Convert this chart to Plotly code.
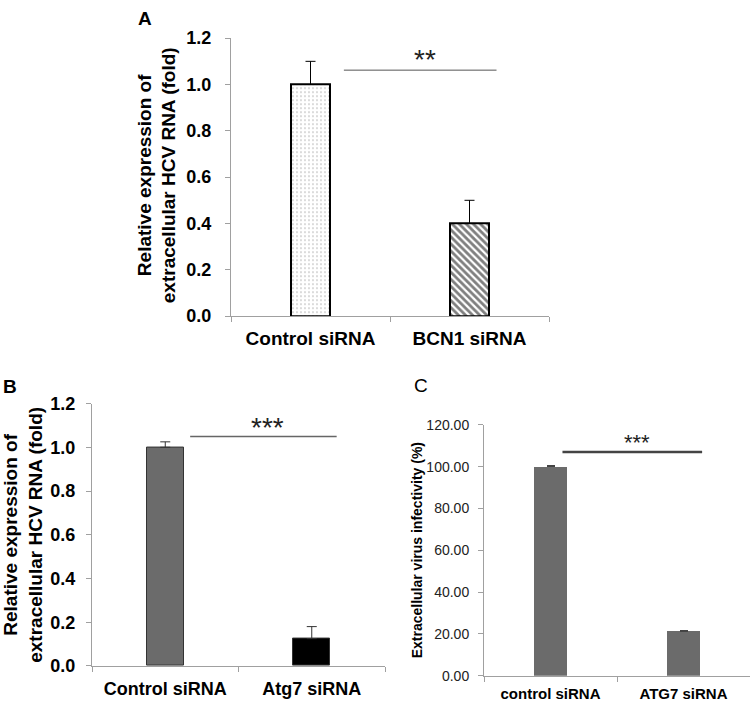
import plotly.graph_objects as go

W, H = 750, 709

# ---------------- data ----------------
cats_a = ["Control siRNA", "BCN1 siRNA"]
vals_a = [1.0, 0.40]
err_a = [0.10, 0.10]

cats_b = ["Control siRNA", "Atg7 siRNA"]
vals_b = [1.0, 0.125]
err_b = [0.025, 0.055]

cats_c = ["control siRNA", "ATG7 siRNA"]
vals_c = [100.0, 21.2]
err_c = [0.4, 0.6]

sig_a = {"x0": 0.21, "x1": 1.17, "y": 1.062, "text": "**", "tx": 0.72, "ty": 1.11}
sig_b = {"x0": 0.17, "x1": 1.17, "y": 1.049, "text": "***", "tx": 0.70, "ty": 1.09}
sig_c = {"x0": 0.09, "x1": 1.14, "y": 107.0, "text": "***", "tx": 0.65, "ty": 111.5}

FONT = "Arial, Liberation Sans, sans-serif"
AX = "#a0a0a0"


def px(x):
    return x / W


def py(y):
    return 1 - y / H


fig = go.Figure()

# Panel A
fig.add_trace(go.Bar(
    x=[cats_a[0]], y=[vals_a[0]], width=0.25, xaxis="x", yaxis="y",
    marker=dict(color="white", line=dict(color="black", width=2),
                pattern=dict(shape=".", fgcolor="#555555", bgcolor="white", size=4, solidity=0.12)),
    error_y=dict(type="data", symmetric=False, array=[err_a[0]], arrayminus=[0],
                 color="black", thickness=1, width=5),
    showlegend=False))
fig.add_trace(go.Bar(
    x=[cats_a[1]], y=[vals_a[1]], width=0.25, xaxis="x", yaxis="y",
    marker=dict(color="white", line=dict(color="black", width=2),
                pattern=dict(shape="\\", fgcolor="black", bgcolor="white", size=5, solidity=0.55)),
    error_y=dict(type="data", symmetric=False, array=[err_a[1]], arrayminus=[0],
                 color="black", thickness=1, width=5),
    showlegend=False))

# Panel B
fig.add_trace(go.Bar(
    x=cats_b, y=vals_b, width=0.25, xaxis="x2", yaxis="y2",
    marker=dict(color=["#6b6b6b", "#000000"], line=dict(color="#333333", width=1)),
    error_y=dict(type="data", symmetric=False, array=err_b, arrayminus=[0, 0],
                 color="#333333", thickness=1, width=5),
    showlegend=False))

# Panel C
fig.add_trace(go.Bar(
    x=cats_c, y=vals_c, width=0.25, xaxis="x3", yaxis="y3",
    marker=dict(color="#6b6b6b", line=dict(color="#6b6b6b", width=0)),
    error_y=dict(type="data", symmetric=False, array=err_c, arrayminus=[0, 0],
                 color="#444444", thickness=1, width=4),
    showlegend=False))

xcommon = dict(type="category", tickson="boundaries", ticks="outside", ticklen=5,
               tickcolor=AX, showline=True, linecolor=AX, linewidth=1,
               showgrid=False, zeroline=False, fixedrange=True)
ycommon = dict(ticks="outside", ticklen=5, tickcolor=AX, showline=True, linecolor=AX,
               linewidth=1, showgrid=False, zeroline=False, fixedrange=True)

fig.update_layout(
    width=W, height=H, margin=dict(l=0, r=0, t=0, b=0),
    paper_bgcolor="white", plot_bgcolor="white", bargap=0,
    font=dict(family=FONT, color="black"),
    xaxis=dict(domain=[px(231), px(549)], anchor="y",
               tickfont=dict(size=19, weight="bold", color="black"), ticklabelstandoff=5, **xcommon),
    yaxis=dict(domain=[py(315), py(29)], anchor="x", range=[0, 1.2], dtick=0.2,
               tickformat=".1f", ticklabelstandoff=10,
               tickfont=dict(size=18, weight="bold", color="black"), **ycommon),
    xaxis2=dict(domain=[px(92), px(385)], anchor="y2",
                tickfont=dict(size=18, weight="bold", color="black"), ticklabelstandoff=6, **xcommon),
    yaxis2=dict(domain=[py(675), py(405)], anchor="x2", range=[0, 1.2], dtick=0.2,
                tickformat=".1f", ticklabelstandoff=7,
                tickfont=dict(size=18, weight="bold", color="black"), **ycommon),
    xaxis3=dict(domain=[px(484), px(750)], anchor="y3",
                tickfont=dict(size=15, weight="bold", color="black"), ticklabelstandoff=4, **xcommon),
    yaxis3=dict(domain=[py(685), py(427)], anchor="x3", range=[0, 120], dtick=20,
                tickformat=".2f", ticklabelstandoff=6,
                tickfont=dict(size=14, color="#222222"), **ycommon),
)

# significance lines and stars
for sig, xr, yr, lc, lw, fs in [(sig_a, "x", "y", "#555555", 1, 28),
                                 (sig_b, "x2", "y2", "#666666", 1.5, 28),
                                 (sig_c, "x3", "y3", "#444444", 2.5, 22)]:
    fig.add_shape(type="line", xref=xr, yref=yr, x0=sig["x0"], x1=sig["x1"],
                  y0=sig["y"], y1=sig["y"], line=dict(color=lc, width=lw))
    fig.add_annotation(xref=xr, yref=yr, x=sig["tx"], y=sig["ty"], text=sig["text"],
                       showarrow=False, font=dict(size=fs, color="#222222"),
                       xanchor="center", yanchor="middle")

# y-axis titles
fig.add_annotation(xref="paper", yref="paper", x=px(157), y=py(170),
                   text="Relative expression of<br>extracellular HCV RNA (fold)",
                   textangle=-90, showarrow=False, xanchor="center", yanchor="middle",
                   font=dict(size=19, weight="bold", color="black"))
fig.add_annotation(xref="paper", yref="paper", x=px(23), y=py(540),
                   text="Relative expression of<br>extracellular HCV RNA (fold)",
                   textangle=-90, showarrow=False, xanchor="center", yanchor="middle",
                   font=dict(size=19, weight="bold", color="black"))
fig.add_annotation(xref="paper", yref="paper", x=px(417), y=py(556),
                   text="Extracellular virus infectivity (%)",
                   textangle=-90, showarrow=False, xanchor="center", yanchor="middle",
                   font=dict(size=14, weight="bold", color="black"))

# panel letters
for letter, x, y, wt in [("A", 145, 9, "bold"), ("B", 10, 387, "bold"), ("C", 421, 386, "normal")]:
    fig.add_annotation(xref="paper", yref="paper", x=px(x), y=py(y), text=letter,
                       showarrow=False, xanchor="center", yanchor="middle",
                       font=dict(size=19, weight=wt, color="black"))

fig.write_html(
    "out.html",
    config={"displayModeBar": False},
    post_script="document.body.style.margin='0';"
                "document.documentElement.style.overflow='hidden';"
                "document.body.style.overflow='hidden';",
)
